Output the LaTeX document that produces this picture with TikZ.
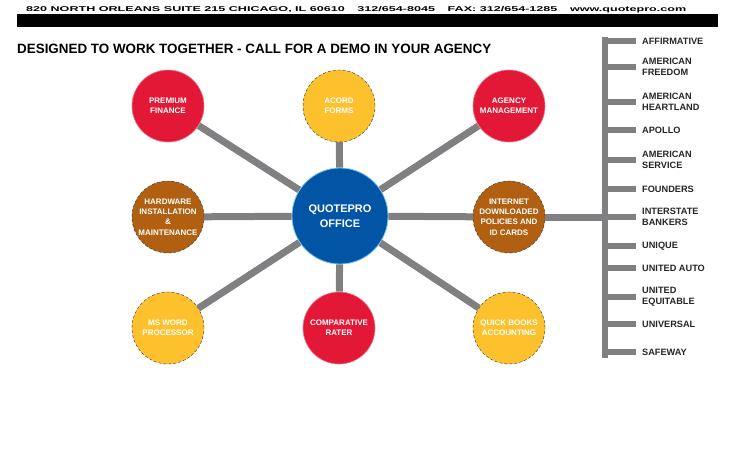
\documentclass[tikz,border=0pt]{standalone}
\usepackage{fontspec}
\setmainfont{Liberation Sans}
\usepackage{graphicx}
\definecolor{qpred}{RGB}{226,24,54}
\definecolor{qppink}{RGB}{240,120,140}
\definecolor{qpyellow}{RGB}{252,193,45}
\definecolor{qpbrown}{RGB}{177,96,17}
\definecolor{qpblue}{RGB}{2,84,164}
\definecolor{qpglow}{RGB}{120,200,240}
\definecolor{qpgray}{RGB}{128,128,130}
\tikzset{
	ball/.style={circle,minimum size=72pt,inner sep=0pt,text=white,align=center,font=\bfseries\fontsize{8}{10.2}\selectfont},
	redball/.style={ball,fill=qpred,draw=qppink,line width=0.6pt},
	yellowball/.style={ball,fill=qpyellow,draw=black!80,densely dashed,line width=0.4pt},
	brownball/.style={ball,fill=qpbrown,draw=black!80,densely dashed,line width=0.4pt},
	hub/.style={circle,minimum size=96pt,inner sep=0pt,fill=qpblue,draw=qpglow,line width=0.8pt,text=white,align=center,font=\bfseries\fontsize{11}{14.5}\selectfont},
	link/.style={draw=qpgray,line width=7pt},
	tick/.style={draw=qpgray,line width=6pt},
	carrier/.style={anchor=west,inner sep=0pt,align=left,text=black!85,font=\bfseries\fontsize{9.2}{11}\selectfont}
}
\begin{document}
\begin{tikzpicture}[x=1pt,y=-1pt]
	\useasboundingbox[fill=white] (0,0) rectangle (739,450);
	\node[anchor=base west,inner sep=0pt] (address) at (26,11.5) {\resizebox{660pt}{\height}{\bfseries\fontsize{7}{8}\selectfont 820 NORTH ORLEANS SUITE 215 CHICAGO, IL 60610\quad 312/654-8045\quad FAX: 312/654-1285\quad www.quotepro.com}};
	\fill[black] (17,14) rectangle (718,27);
	\node[anchor=base west,inner sep=0pt] (slogan) at (17,53) {\resizebox{474pt}{\height}{\bfseries\fontsize{13.5}{16}\selectfont DESIGNED TO WORK TOGETHER - CALL FOR A DEMO IN YOUR AGENCY}};
	\node[hub] (office) at (340,216) {QUOTEPRO\\OFFICE};
	\node[redball] (finance) at (168,106) {PREMIUM\\FINANCE};
	\node[yellowball] (acord) at (339,106) {ACORD\\FORMS};
	\node[redball] (agency) at (509,106) {AGENCY\\MANAGEMENT};
	\node[brownball] (hardware) at (168,217) {HARDWARE\\INSTALLATION\\\&\\MAINTENANCE};
	\node[brownball] (internet) at (509,217) {INTERNET\\DOWNLOADED\\POLICIES AND\\ID CARDS};
	\node[yellowball] (msword) at (168,328) {MS WORD\\PROCESSOR};
	\node[redball] (rater) at (339,328) {COMPARATIVE\\RATER};
	\node[yellowball] (quickbooks) at (509,328) {QUICK BOOKS\\ACCOUNTING};
	\draw[link] (office) -- (finance);
	\draw[link] (office) -- (acord);
	\draw[link] (office) -- (agency);
	\draw[link] (office) -- (hardware);
	\draw[link] (office) -- (internet);
	\draw[link] (office) -- (msword);
	\draw[link] (office) -- (rater);
	\draw[link] (office) -- (quickbooks);
	\coordinate (railtop) at (605,37);
	\coordinate (railbottom) at (605,358);
	\draw[link,line width=6.5pt] (railtop) -- (railbottom);
	\draw[link] (internet) -- (internet -| railtop);
	\node[carrier] (affirmative) at (642,41) {AFFIRMATIVE};
	\node[carrier] (freedom) at (642,67) {AMERICAN\\FREEDOM};
	\node[carrier] (heartland) at (642,102) {AMERICAN\\HEARTLAND};
	\node[carrier] (apollo) at (642,130) {APOLLO};
	\node[carrier] (service) at (642,160) {AMERICAN\\SERVICE};
	\node[carrier] (founders) at (642,189) {FOUNDERS};
	\node[carrier] (interstate) at (642,217) {INTERSTATE\\BANKERS};
	\node[carrier] (unique) at (642,246) {UNIQUE};
	\node[carrier] (unitedauto) at (642,268) {UNITED AUTO};
	\node[carrier] (equitable) at (642,297) {UNITED\\EQUITABLE};
	\node[carrier] (universal) at (642,324) {UNIVERSAL};
	\node[carrier] (safeway) at (642,352) {SAFEWAY};
	\draw[tick] (railtop |- affirmative.west) -- ([xshift=-6pt]affirmative.west);
	\draw[tick] (railtop |- freedom.west) -- ([xshift=-6pt]freedom.west);
	\draw[tick] (railtop |- heartland.west) -- ([xshift=-6pt]heartland.west);
	\draw[tick] (railtop |- apollo.west) -- ([xshift=-6pt]apollo.west);
	\draw[tick] (railtop |- service.west) -- ([xshift=-6pt]service.west);
	\draw[tick] (railtop |- founders.west) -- ([xshift=-6pt]founders.west);
	\draw[tick] (railtop |- interstate.west) -- ([xshift=-6pt]interstate.west);
	\draw[tick] (railtop |- unique.west) -- ([xshift=-6pt]unique.west);
	\draw[tick] (railtop |- unitedauto.west) -- ([xshift=-6pt]unitedauto.west);
	\draw[tick] (railtop |- equitable.west) -- ([xshift=-6pt]equitable.west);
	\draw[tick] (railtop |- universal.west) -- ([xshift=-6pt]universal.west);
	\draw[tick] (railtop |- safeway.west) -- ([xshift=-6pt]safeway.west);
\end{tikzpicture}
\end{document}
